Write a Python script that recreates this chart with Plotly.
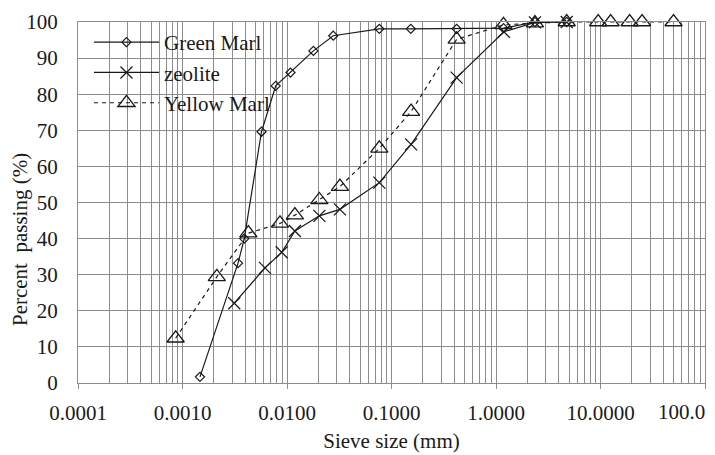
import plotly.graph_objects as go

green_x = [0.00147, 0.0034, 0.0039, 0.0057, 0.0078, 0.0108, 0.0179, 0.0277, 0.0765, 0.153, 0.42, 1.18, 2.36, 4.75]
green_y = [1.7, 33.2, 40.0, 69.6, 82.3, 86.0, 92.0, 96.2, 98.1, 98.1, 98.1, 98.3, 100, 100]

zeo_x = [0.00313, 0.00616, 0.0089, 0.0119, 0.0204, 0.0321, 0.0765, 0.154, 0.42, 1.19, 2.36, 4.75]
zeo_y = [22.1, 31.9, 36.2, 42.1, 46.3, 48.1, 55.5, 66.1, 84.6, 97.3, 99.9, 100]

yel_x = [0.00086, 0.00213, 0.00427, 0.00857, 0.0119, 0.0204, 0.0321, 0.0765, 0.154, 0.42, 1.18, 2.36, 4.75, 9.5, 12.5, 19.0, 25.0, 50.0]
yel_y = [12.4, 29.4, 41.5, 44.2, 46.5, 50.7, 54.4, 65.0, 75.2, 95.2, 99.2, 99.7, 100, 100, 100, 100, 100, 100]

x_tickvals = [0.0001, 0.001, 0.01, 0.1, 1, 10, 100]
x_ticktext = ["0.0001", "0.0010", "0.0100", "0.1000", "1.0000", "10.0000", "100.0"]
x_minor = [m * 10 ** e for e in range(-4, 2) for m in range(2, 10)]

FONT = "Liberation Serif, Times New Roman, serif"
GRID = "#8c8c8c"
INK = "#1a1a1a"
TICK_SIZE = 21

fig = go.Figure()
fig.add_trace(go.Scatter(
    x=green_x, y=green_y, name="Green Marl", mode="lines+markers", cliponaxis=False,
    line=dict(color=INK, width=1.2),
    marker=dict(symbol="diamond-open", size=7, color=INK, line=dict(width=1.2, color=INK)),
))
fig.add_trace(go.Scatter(
    x=zeo_x, y=zeo_y, name="zeolite", mode="lines+markers", cliponaxis=False,
    line=dict(color=INK, width=1.2),
    marker=dict(symbol="x-thin-open", size=12, color=INK, line=dict(width=1.3, color=INK)),
))
fig.add_trace(go.Scatter(
    x=yel_x, y=yel_y, name="Yellow Marl", mode="lines+markers", cliponaxis=False,
    line=dict(color=INK, width=1.2, dash="4px,4px"),
    marker=dict(symbol="triangle-up-open", size=15, color=INK, line=dict(width=1.3, color=INK)),
))

# last tick label is drawn right-aligned to keep it inside the page (as in the original)
last_label = dict(
    text=x_ticktext[-1], showarrow=False,
    xref="x", yref="paper", x=2, y=0,
    xanchor="right", yanchor="middle", xshift=2, yshift=-29,
    font=dict(family=FONT, size=TICK_SIZE, color=INK),
)

fig.update_layout(
    width=707, height=447,
    margin=dict(l=70, r=10, t=14, b=72, autoexpand=False),
    paper_bgcolor="white", plot_bgcolor="white",
    font=dict(family=FONT, size=20, color=INK),
    showlegend=True,
    legend=dict(
        x=0.0175, y=1.0, xanchor="left", yanchor="top",
        bgcolor="rgba(0,0,0,0)", borderwidth=0,
        font=dict(family=FONT, size=21, color=INK),
        itemsizing="trace", tracegroupgap=0, itemwidth=65,
    ),
    annotations=[
        dict(
            text="Percent  passing (%)", textangle=-90, showarrow=False,
            xref="paper", yref="paper", x=-0.0925, y=0.396,
            xanchor="center", yanchor="middle",
            font=dict(family=FONT, size=21, color=INK),
        ),
        last_label,
    ],
)
fig.update_xaxes(
    type="log", range=[-4, 2], automargin=False,
    tickmode="array", tickvals=x_tickvals, ticktext=x_ticktext[:-1] + [""],
    showgrid=True, gridcolor=GRID, gridwidth=1,
    ticks="outside", ticklen=5, tickcolor=GRID, ticklabelstandoff=6,
    minor=dict(tickmode="array", tickvals=x_minor, showgrid=True, gridcolor=GRID, gridwidth=1, ticks=""),
    showline=True, linecolor=GRID, linewidth=1, mirror=True,
    zeroline=False,
    tickfont=dict(family=FONT, size=TICK_SIZE, color=INK),
    title=dict(text="Sieve size (mm)", font=dict(family=FONT, size=21, color=INK), standoff=9),
)
fig.update_yaxes(
    range=[0, 100], dtick=10, tick0=0, automargin=False,
    showgrid=True, gridcolor=GRID, gridwidth=1,
    ticks="", showline=True, linecolor=GRID, linewidth=1, mirror=True,
    zeroline=False, ticklabelstandoff=15,
    tickfont=dict(family=FONT, size=TICK_SIZE, color=INK),
)

fig.write_html("out.html")
